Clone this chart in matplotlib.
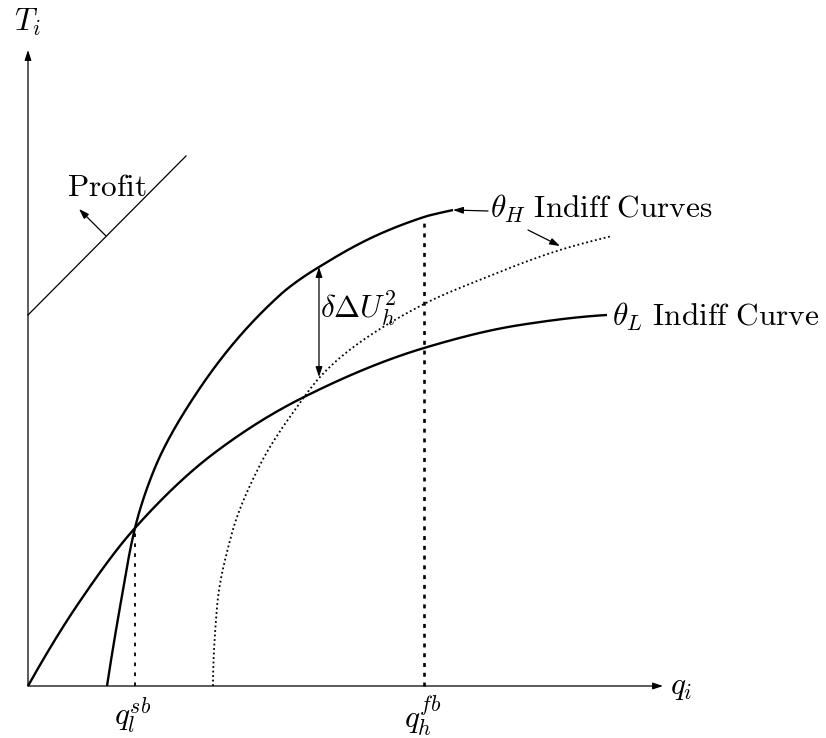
import numpy as np
import matplotlib
matplotlib.use("Agg")
import matplotlib.pyplot as plt

plt.rcParams['mathtext.fontset'] = 'cm'
plt.rcParams['font.family'] = ['DejaVu Serif']

# ---- data (quantity q, transfer T) ----
theta_L_q = [0, 50, 107, 185, 274, 396, 492, 579]
theta_L_T = [0, 82, 158, 232, 288, 338, 361, 371]

theta_H_q = [79, 92, 107, 126, 164, 252, 291, 396, 425]
theta_H_T = [0, 79, 158, 216, 286, 391, 419, 469, 476]

theta_H2_q = [185, 189, 204, 233, 274, 292, 319, 396, 459, 532, 584]
theta_H2_T = [0, 79, 153, 223, 286, 309, 334, 382, 409, 436, 450]

profit_q = [0, 158]
profit_T = [371, 530]

q_sb, T_sb = 107, 158
q_fb, T_fb = 396, 469
gap_q, gap_top, gap_bot = 291, 419, 309

x_axis_end = 635
y_axis_end = 636


def pchip(x, y, n=400):
    """Shape-preserving piecewise cubic Hermite curve through (x, y)."""
    x = np.asarray(x, float)
    y = np.asarray(y, float)
    h = np.diff(x)
    dl = np.diff(y) / h
    d = np.zeros_like(x)
    for k in range(1, len(x) - 1):
        if dl[k - 1] * dl[k] > 0:
            w1 = 2 * h[k] + h[k - 1]
            w2 = h[k] + 2 * h[k - 1]
            d[k] = (w1 + w2) / (w1 / dl[k - 1] + w2 / dl[k])

    def end(h0, h1, d0, d1):
        v = ((2 * h0 + h1) * d0 - h0 * d1) / (h0 + h1)
        if np.sign(v) != np.sign(d0):
            v = 0.0
        elif np.sign(d0) != np.sign(d1) and abs(v) > abs(3 * d0):
            v = 3 * d0
        return v

    d[0] = end(h[0], h[1], dl[0], dl[1])
    d[-1] = end(h[-1], h[-2], dl[-1], dl[-2])
    xs = np.linspace(x[0], x[-1], n)
    k = np.clip(np.searchsorted(x, xs) - 1, 0, len(x) - 2)
    t = (xs - x[k]) / h[k]
    h00 = 2 * t ** 3 - 3 * t ** 2 + 1
    h10 = t ** 3 - 2 * t ** 2 + t
    h01 = -2 * t ** 3 + 3 * t ** 2
    h11 = t ** 3 - t ** 2
    ys = h00 * y[k] + h10 * h[k] * d[k] + h01 * y[k + 1] + h11 * h[k] * d[k + 1]
    return xs, ys


fig = plt.figure(figsize=(8.26, 7.38), dpi=100)
ax = fig.add_axes([0, 0, 1, 1])
ax.set_xlim(-28, 798)
ax.set_ylim(-52, 686)
ax.axis('off')

arrow_kw = dict(arrowstyle='-|>,head_length=0.6,head_width=0.2', color='black', lw=0.9,
                shrinkA=0, shrinkB=0)

# axes
ax.annotate('', xy=(0, y_axis_end), xytext=(0, 0), arrowprops=arrow_kw)
ax.annotate('', xy=(x_axis_end, 0), xytext=(0, 0), arrowprops=arrow_kw)

# curves: theta_L as T(q); theta_H curves as q(T) (they rise almost vertically)
qx, Ty = pchip(theta_L_q, theta_L_T)
ax.plot(qx, Ty, color='black', lw=1.7, solid_capstyle='butt')
Ty, qx = pchip(theta_H_T, theta_H_q)
ax.plot(qx, Ty, color='black', lw=1.7, solid_capstyle='butt')
Ty, qx = pchip(theta_H2_T, theta_H2_q)
ax.plot(qx, Ty, color='black', lw=1.3, linestyle=(0, (1, 1.5)))

# vertical dotted lines
ax.plot([q_sb, q_sb], [0, T_sb], color='black', lw=1.3, linestyle=(0, (2, 3.5)))
ax.plot([q_fb, q_fb], [0, T_fb], color='black', lw=1.9, linestyle=(0, (1.5, 2.2)))

# profit line and arrow
ax.plot(profit_q, profit_T, color='black', lw=0.9)
ax.annotate('', xy=(51, 477), xytext=(78, 450), arrowprops=arrow_kw)

# double arrow
dbl = dict(arrowstyle='<|-|>,head_length=0.6,head_width=0.2', color='black', lw=0.9,
           shrinkA=0, shrinkB=0)
ax.annotate('', xy=(gap_q, gap_top), xytext=(gap_q, gap_bot), arrowprops=dbl)

# label arrows
ax.annotate('', xy=(425, 476), xytext=(460, 475), arrowprops=arrow_kw)
ax.annotate('', xy=(532, 440), xytext=(500, 456), arrowprops=arrow_kw)

fs = 22.5
ax.text(-1, 664, r'$T_i$', fontsize=fs, ha='center', va='center')
ax.text(642, 0, r'$q_i$', fontsize=fs, ha='left', va='center')
ax.text(105, -30, r'$q_l^{sb}$', fontsize=fs, ha='center', va='center')
ax.text(395, -30, r'$q_h^{fb}$', fontsize=fs, ha='center', va='center')
ax.text(292, 378, r'$\delta\Delta U_h^2$', fontsize=fs, ha='left', va='center')
ax.text(79, 498, r'$\mathrm{Profit}$', fontsize=fs, ha='center', va='center')
ax.text(462, 477, r'$\theta_H\ \mathrm{Indiff\ Curves}$', fontsize=fs, ha='left', va='center')
ax.text(584, 369, r'$\theta_L\ \mathrm{Indiff\ Curve}$', fontsize=fs, ha='left', va='center')

fig.savefig('out.png', dpi=100)
